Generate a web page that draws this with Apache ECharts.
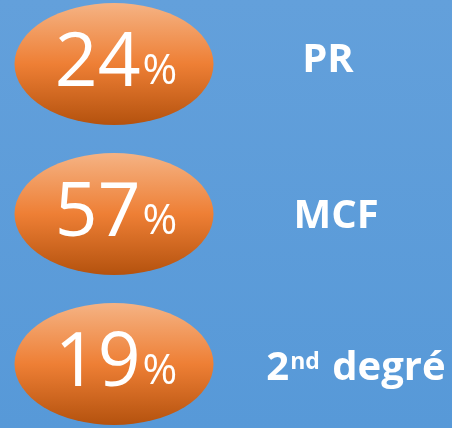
<!DOCTYPE html>
<html>
<head>
<meta charset="utf-8">
<script src="https://cdn.jsdelivr.net/npm/echarts@6/dist/echarts.min.js"></script>
<style>
  html, body { margin: 0; padding: 0; }
  #chart { width: 452px; height: 428px; }
</style>
</head>
<body>
<div id="chart"></div>
<script>
// Share of each group
const categories = ['PR', 'MCF', '2nd degré'];
const shares = [24, 57, 19];

// Layout: column of the ellipses and centre of each name label (pixels)
const ellipseX = 114;
const labelX = [328, 336, 356];
const labelDy = [-3, 3, 5];

const chart = echarts.init(document.getElementById('chart'), null, { renderer: 'canvas' });

const orangeFill = new echarts.graphic.LinearGradient(0, 0, 0, 1, [
  { offset: 0, color: '#f5b384' },
  { offset: 0.5, color: '#ee7f35' },
  { offset: 1, color: '#b4520e' }
]);

// Turns "2nd degré" into rich text with a raised ordinal suffix
function nameRich(name) {
  const m = name.match(/^(\d+)(st|nd|rd|th|e|er)(\s.*)$/);
  if (m) return '{b|' + m[1] + '}{sup|' + m[2] + '}{b|' + m[3] + '}';
  return '{b|' + name + '}';
}

chart.setOption({
  backgroundColor: new echarts.graphic.LinearGradient(0, 0, 0, 1, [
    { offset: 0, color: '#63a0db' },
    { offset: 1, color: '#5799d8' }
  ]),
  animation: false,
  grid: { left: 0, right: 0, top: 64, bottom: 64 },
  xAxis: { type: 'value', min: 0, max: 452, show: false },
  yAxis: {
    type: 'category', data: categories, inverse: true,
    boundaryGap: false, show: false
  },
  series: [
    {
      type: 'scatter',
      symbol: 'circle',
      symbolSize: [199, 122],
      itemStyle: { color: orangeFill, opacity: 1 },
      silent: true,
      data: shares.map((v, i) => [ellipseX, i, v]),
      label: {
        show: true,
        position: 'inside',
        offset: [2, 1],
        formatter: p => '{n|' + p.value[2] + '}{p|%}',
        rich: {
          n: { fontFamily: 'Open Sans', fontSize: 75, color: '#ffffff', verticalAlign: 'bottom', lineHeight: 75 },
          p: { fontFamily: 'Open Sans', fontSize: 42, color: '#ffffff', verticalAlign: 'bottom', lineHeight: 42, padding: [0, 0, 9, 2] }
        }
      },
      z: 2
    },
    {
      type: 'scatter',
      symbolSize: 0,
      silent: true,
      itemStyle: { opacity: 1 },
      data: categories.map((c, i) => ({
        value: [labelX[i], i],
        label: { offset: [0, labelDy[i]] }
      })),
      label: {
        show: true,
        position: 'inside',
        color: '#ffffff',
        formatter: p => nameRich(categories[p.dataIndex]),
        rich: {
          b: { fontFamily: 'Open Sans', fontWeight: 'bold', fontSize: 40, color: '#ffffff', verticalAlign: 'bottom', lineHeight: 40 },
          sup: { fontFamily: 'Open Sans', fontWeight: 'bold', fontSize: 23, color: '#ffffff', verticalAlign: 'bottom', lineHeight: 23, padding: [0, 2, 15, 1] }
        }
      },
      z: 3
    }
  ]
});
</script>
</body>
</html>
